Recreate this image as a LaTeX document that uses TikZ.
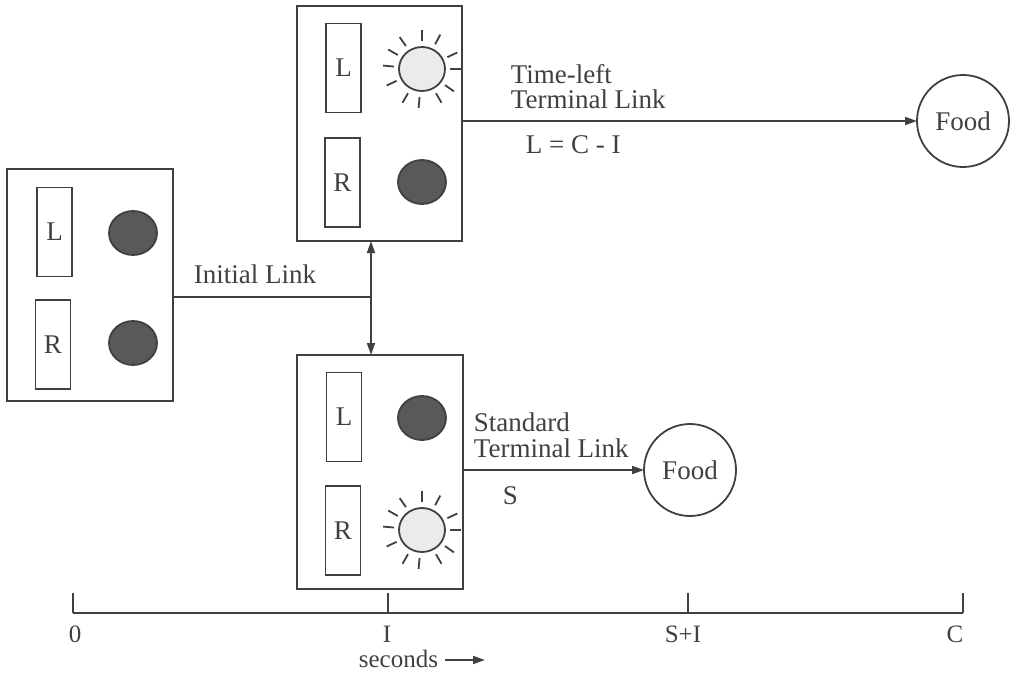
\documentclass[tikz,border=0pt]{standalone}
\usepackage{fontspec}
\setmainfont{Liberation Serif}
\usetikzlibrary{arrows.meta,calc,shapes.geometric}
\newcommand\myfs{\fontsize{27}{30}\selectfont}
\newcommand\axfs{\fontsize{25}{28}\selectfont}
\begin{document}
\begin{tikzpicture}[x=1pt,y=-1pt,line width=1.8pt,
  every node/.style={text=black!75},
  panel/.style={draw=black!75,rectangle,inner sep=0pt,outer sep=0pt},
  keybox/.style={draw=black!75,rectangle,minimum width=35pt,minimum height=89pt,inner sep=0pt,font=\myfs},
  darkdot/.style={draw=black!75,ellipse,minimum width=48pt,minimum height=44pt,inner sep=0pt,fill=black!65},
  litdot/.style={draw=black!75,ellipse,minimum width=46pt,minimum height=44pt,inner sep=0pt,fill=black!8},
  food/.style={draw=black!75,circle,minimum size=92pt,inner sep=0pt,outer sep=0pt,font=\myfs},
  lbl/.style={anchor=base west,inner sep=0pt,font=\myfs},
  axl/.style={anchor=base,inner sep=0pt,font=\axfs},
  arr/.style={draw=black!75,-{Triangle[length=12pt,width=8pt]}},
  darr/.style={draw=black!75,{Triangle[length=12pt,width=8pt]}-{Triangle[length=12pt,width=8pt]}},
  ray/.style={draw=black!75,line width=1.8pt}
]
\useasboundingbox (0,0) rectangle (1018,673);

% panels
\node[panel,minimum width=166pt,minimum height=232pt] (init) at (90,285) {};
\node[panel,minimum width=165pt,minimum height=235pt] (top) at (379.5,123.5) {};
\node[panel,minimum width=166pt,minimum height=234pt] (bot) at (380,472) {};

% keys
\node[keybox] (iL) at (54.5,232) {L};
\node[keybox] (iR) at (53,344.5) {R};
\node[keybox] (tL) at (343.5,68) {L};
\node[keybox] (tR) at (342.5,182.5) {R};
\node[keybox] (bL) at (344,417) {L};
\node[keybox] (bR) at (343,530.5) {R};

% lights
\node[darkdot] (iLd) at (133,233) {};
\node[darkdot] (iRd) at (133,343) {};
\node[litdot] (tLs) at (422,69) {};
\node[darkdot] (tRd) at (422,182) {};
\node[darkdot] (bLd) at (422,418) {};
\node[litdot] (bRs) at (422,530) {};

\foreach \s in {tLs,bRs}{
  \foreach \a in {90,62,25,0,-35,-60,-95,-120,-155,175,150,125}{
    \draw[ray] ($(\s.center)+(\a:28pt)$) -- ($(\s.center)+(\a:39pt)$);
  }
}

% food
\node[food] (f1) at (963,121) {Food};
\node[food] (f2) at (690,470) {Food};

% connectors
\coordinate (j) at (371,297);
\draw[black!75] (init.east |- j) -- (j);
\draw[darr] (top.south -| j) -- (bot.north -| j);
\draw[arr] (top.east |- f1.west) -- (f1.west);
\draw[arr] (bot.east |- f2.west) -- (f2.west);

% labels
\node[lbl] (il) at (193,283) {Initial Link};
\node[lbl] (tl1) at (510,83) {Time-left};
\node[lbl] (tl2) at (510,108) {Terminal Link};
\node[lbl] (tl3) at (525,153) {L = C - I};
\node[lbl] (sl1) at (473,431) {Standard};
\node[lbl] (sl2) at (473,457) {Terminal Link};
\node[lbl] (sl3) at (502,504) {S};

% time axis
\coordinate (t0) at (73,613);
\coordinate (tI) at (388,613);
\coordinate (tS) at (688,613);
\coordinate (tC) at (963,613);
\draw[black!75] (t0) -- (tC);
\foreach \t in {t0,tI,tS,tC}{ \draw[black!75] (\t) -- ++(0,-20); }
\node[axl] (l0) at (75,642) {0};
\node[axl] (lI) at (387,642) {I};
\node[axl] (lS) at (683,642) {S+I};
\node[axl] (lC) at (955,642) {C};
\node[anchor=base west,inner sep=0pt,font=\axfs] (sec) at (358,667) {seconds};
\coordinate (sa) at (445,660);
\coordinate (sb) at (485,660);
\draw[arr] (sa) -- (sb);
\end{tikzpicture}
\end{document}
